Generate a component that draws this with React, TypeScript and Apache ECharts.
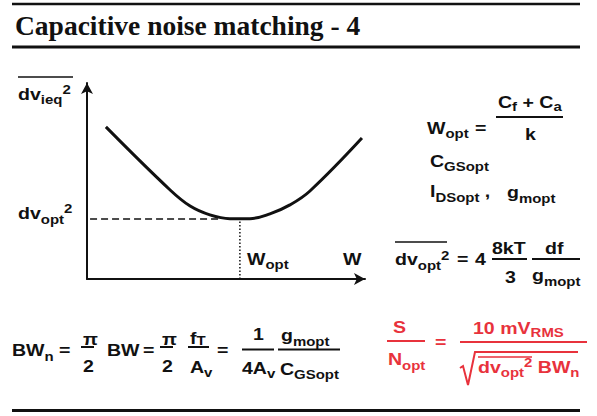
import React, { useEffect, useRef } from 'react';
import * as echarts from 'echarts';

// Curve of equivalent input noise vs. transistor width (normalised units)
const curveW = [6.8, 29.9, 37.1, 44.2, 51.4, 58.6, 65.8, 73.0, 80.2, 98.9];
const curveNoise = [77.6, 45.4, 37.2, 32.7, 30.8, 30.8, 33.2, 37.8, 44.9, 71.9];
const optW = 55.0;
const optNoise = 30.6;
const dashStartW = 1.1;
const dashEndW = 47.8;

const SANS = '"Liberation Sans", Arial, Helvetica, sans-serif';
const SERIF = '"Liberation Serif", "Times New Roman", serif';
const SX = 1.15;
const BLACK = '#111111';
const RED = '#e8323c';

type Tok = [string, 'n' | 's' | 'p'];

function run(x: number, y: number, toks: Tok[] | string, opts: any = {}) {
  const list: Tok[] = typeof toks === 'string' ? [[toks, 'n']] : toks;
  const size = opts.size ?? 17;
  const sub = opts.sub ?? 13;
  const color = opts.color ?? BLACK;
  const dDown = opts.dDown ?? 6;
  const dUp = opts.dUp ?? 4;
  const L = 40;
  const base = { fontFamily: SANS, fontWeight: 'bold', fill: color, lineHeight: L };
  return {
    type: 'text',
    x,
    y,
    scaleX: SX,
    silent: true,
    style: {
      text: list.map(([t, k]) => `{${k}|${t}}`).join(''),
      rich: {
        n: { ...base, fontSize: size },
        s: { ...base, fontSize: sub, padding: [2 * dDown, 0, 0, 0] },
        p: { ...base, fontSize: sub, padding: [0, 0, 2 * dUp, 0] },
      },
      verticalAlign: 'middle',
      align: 'left',
    },
  };
}

function hline(x1: number, x2: number, y: number, color = BLACK, lw = 2) {
  return {
    type: 'line',
    silent: true,
    shape: { x1, y1: y, x2, y2: y },
    style: { stroke: color, lineWidth: lw },
  };
}

export default function App() {
  const ref = useRef<HTMLDivElement>(null);
  useEffect(() => {
    if (!ref.current) return;
    const chart = echarts.init(ref.current, undefined, { renderer: 'svg' });
    const graphic: any[] = [
      // rules
      hline(12, 580, 4, BLACK, 2.5),
      hline(12, 580, 47, BLACK, 3),
      hline(12, 580, 410.5, BLACK, 3),
      {
        type: 'text',
        x: 15,
        y: 25.5,
        silent: true,
        style: {
          text: 'Capacitive noise matching - 4',
          fontFamily: SERIF,
          fontWeight: 'bold',
          fontSize: 27.5,
          fill: BLACK,
          verticalAlign: 'middle',
          align: 'left',
        },
      },
      // chart labels
      run(18, 93.5, [['dv', 'n'], ['ieq', 's'], ['2', 'p']]),
      hline(18, 73, 77, BLACK, 1.5),
      run(18, 212.5, [['dv', 'n'], ['opt', 's'], ['2', 'p']], { dDown: 7 }),
      run(247, 258.5, [['W', 'n'], ['opt', 's']]),
      run(343, 258.5, 'W'),
      // right column
      run(427, 127.5, [['W', 'n'], ['opt', 's']]),
      run(475, 127.5, '='),
      run(498, 101.5, [['C', 'n'], ['f', 's'], [' + ', 'n'], ['C', 'n'], ['a', 's']], { dDown: 5 }),
      hline(496, 563, 117),
      run(525, 133.5, 'k'),
      run(430, 160.5, [['C', 'n'], ['GSopt', 's']]),
      run(430, 191, [['I', 'n'], ['DSopt', 's'], [' ,', 'n']]),
      run(507, 192, [['g', 'n'], ['mopt', 's']]),
      hline(395, 447, 242, BLACK, 1.5),
      run(395, 259, [['dv', 'n'], ['opt', 's'], ['2', 'p']]),
      run(457, 259, '='),
      run(475, 259, '4'),
      run(492, 247.5, '8kT'),
      hline(492, 527, 259),
      run(505, 276.5, '3'),
      run(545, 247.5, 'df'),
      hline(532, 580, 259),
      run(532, 275, [['g', 'n'], ['mopt', 's']]),
      // bottom formula
      run(12, 350, [['BW', 'n'], ['n', 's']]),
      run(59, 350, '='),
      run(83, 338.5, 'π'),
      hline(81, 94, 347),
      run(83, 366, '2'),
      run(107, 350, 'BW'),
      run(143, 350, '='),
      run(162, 338.5, 'π'),
      hline(160, 173, 347),
      run(162, 366, '2'),
      run(190, 337.5, [['f', 'n'], ['T', 's']], { dDown: 3 }),
      hline(188, 209, 347),
      run(190, 366.5, [['A', 'n'], ['v', 's']]),
      run(217, 350, '='),
      run(253, 333.5, '1'),
      hline(242, 274, 349.5),
      run(242, 367.5, [['4A', 'n'], ['v', 's']]),
      run(281, 335, [['g', 'n'], ['mopt', 's']]),
      hline(278, 340, 349.5),
      run(280, 368.5, [['C', 'n'], ['GSopt', 's']]),
      // red S/N formula
      run(393, 327, 'S', { color: RED }),
      hline(387, 425, 341, RED),
      run(388, 359, [['N', 'n'], ['opt', 's']], { color: RED }),
      run(435, 342, '=', { color: RED }),
      run(473, 327.5, [['10 mV', 'n'], ['RMS', 's']], { color: RED, dDown: 5 }),
      hline(460, 587, 342, RED),
      {
        type: 'polyline',
        silent: true,
        shape: { points: [[460, 368], [463, 366], [468, 385], [475, 352], [578, 352]] },
        style: { stroke: RED, lineWidth: 2, fill: 'none' },
      },
      hline(478, 532, 357, RED, 1.5),
      run(478, 366.5, [['dv', 'n'], ['opt', 's'], ['2', 'p'], [' BW', 'n'], ['n', 's']], { color: RED }),
    ];

    const axisCommon = {
      type: 'value',
      min: 0,
      max: 100,
      axisLine: {
        show: true,
        symbol: ['none', 'arrow'],
        symbolSize: [9, 11],
        lineStyle: { color: BLACK, width: 2 },
      },
      axisTick: { show: false },
      axisLabel: { show: false },
      splitLine: { show: false },
    };

    chart.setOption({
      animation: false,
      backgroundColor: '#ffffff',
      grid: { left: 87, top: 83, width: 278, height: 196 },
      xAxis: { ...axisCommon },
      yAxis: { ...axisCommon },
      series: [
        {
          type: 'line',
          data: curveW.map((w, i) => [w, curveNoise[i]]),
          smooth: 0.4,
          showSymbol: false,
          lineStyle: { color: BLACK, width: 3 },
        },
        {
          type: 'line',
          data: [[dashStartW, optNoise], [dashEndW, optNoise]],
          showSymbol: false,
          lineStyle: { color: BLACK, width: 1.5, type: [7, 4] },
        },
        {
          type: 'line',
          data: [[optW, 0], [optW, optNoise]],
          showSymbol: false,
          lineStyle: { color: BLACK, width: 1.5, type: [1.5, 2] },
        },
      ],
      graphic,
    });
    return () => chart.dispose();
  }, []);
  return (
    <div
      ref={ref}
      style={{ position: 'absolute', left: 0, top: 0, width: 597, height: 416, background: '#fff' }}
    />
  );
}
